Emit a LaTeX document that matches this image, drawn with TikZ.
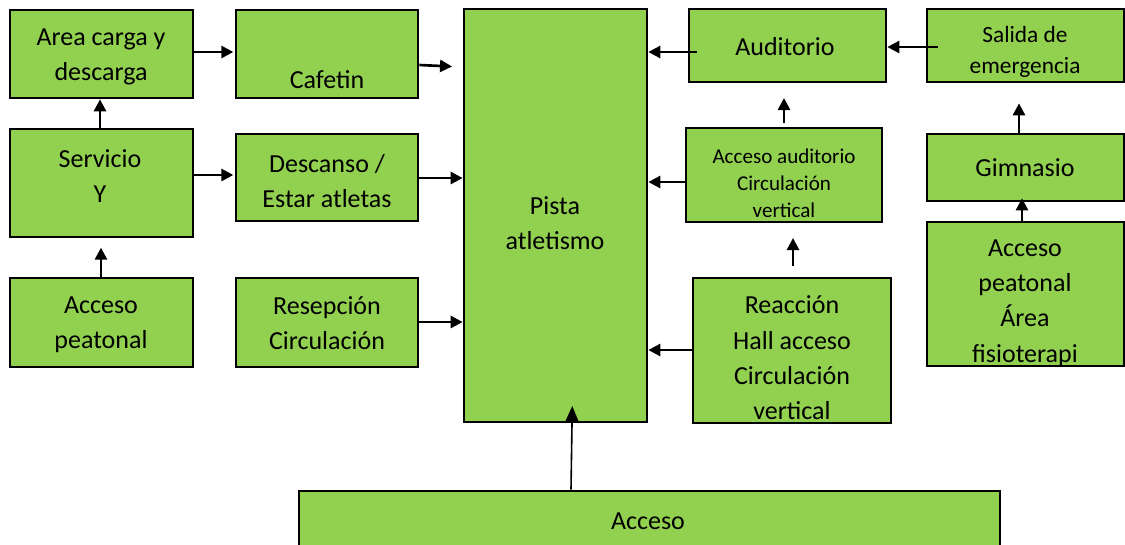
\documentclass[tikz,border=0pt]{standalone}
\usepackage{fontspec}
\setmainfont{Carlito}
\usetikzlibrary{arrows.meta}
\definecolor{boxgreen}{HTML}{92D050}
\tikzset{
  box/.style={draw=black, fill=boxgreen, line width=2pt, inner sep=0pt},
  txt/.style={align=center, inner sep=0pt, font=\fontsize{19.5}{26.5}\selectfont},
  smalltxt/.style={align=center, inner sep=0pt, font=\fontsize{15.8}{20.3}\selectfont},
  midtxt/.style={align=center, inner sep=0pt, font=\fontsize{17.5}{23.2}\selectfont},
  arr/.style={line width=2pt, -{Triangle[length=9pt,width=9pt]}},
  thinarr/.style={line width=1.2pt, -{Triangle[length=12pt,width=10pt]}}
}
\newcommand{\bx}[5]{\node[box, minimum width={(#3-#1)*0.75pt}, minimum height={(#4-#2)*0.75pt}] (#5) at ({(#1+#3)/2},{(#2+#4)/2}) {};}
\begin{document}
\begin{tikzpicture}[x=0.75pt, y=-0.75pt]
\clip (0,0) rectangle (1125,544);
\fill[white] (0,0) rectangle (1125,544);
% boxes
\bx{10}{10}{193}{98}{area}
\bx{236}{10}{418}{98}{cafe}
\bx{10}{129}{193}{237}{serv}
\bx{236}{134}{418}{221}{desc}
\bx{10}{278}{193}{367}{accl}
\bx{236}{278}{418}{367}{resp}
\bx{464}{9}{647}{422}{pista}
\bx{689}{9}{886}{82}{audi}
\bx{927}{9}{1124}{82}{sali}
\bx{686}{128}{882}{222}{acca}
\bx{927}{134}{1124}{201}{gimn}
\bx{927}{222}{1124}{366}{accr}
\bx{693}{278}{891}{423}{reac}
\bx{299}{491}{1000}{570}{acc}
% texts
\node[txt] (tarea) at (101,57) {Area carga y\\descarga};
\node[txt] (tcafe) at (327,80) {Cafetin};
\node[txt] (tserv) at (100,176) {Servicio\\Y};
\node[txt] (tdesc) at (327,181) {Descanso /\\Estar atletas};
\node[txt] (taccl) at (101,325) {Acceso\\peatonal};
\node[txt] (tresp) at (327,323) {Resepción\\Circulación};
\node[txt] (tpista) at (555,223) {Pista\\atletismo};
\node[txt] (taudi) at (785,47) {Auditorio};
\node[midtxt] (tsali) at (1025,52) {Salida de\\emergencia};
\node[smalltxt] (tacca) at (784,183) {Acceso auditorio\\Circulación\\vertical};
\node[txt] (tgimn) at (1025,168) {Gimnasio};
\node[txt] (taccr) at (1025,303) {Acceso\\peatonal\\Área\\fisioterapi};
\node[txt] (treac) at (792,358) {Reacción\\Hall acceso\\Circulación\\vertical};
\node[txt] (tacc) at (648,521) {Acceso};
% connectors
\draw[arr, shorten >=1pt] (area.east |- 0,52) -- (cafe.west |- 0,52);
\draw[arr, shorten >=8pt] (cafe.east |- 0,65) -- (pista.west |- 0,67);
\draw[arr] (serv.north -| 100,0) -- (area.south -| 100,0);
\draw[arr, shorten >=1pt] (serv.east |- 0,175) -- (desc.west |- 0,175);
\draw[arr] (desc.east |- 0,178) -- (pista.west |- 0,178);
\draw[arr, shorten >=7pt] (accl.north -| 101,0) -- (serv.south -| 101,0);
\draw[arr] (resp.east |- 0,322) -- (pista.west |- 0,322);
\draw[arr, shorten <=-7pt] (audi.west |- 0,52) -- (pista.east |- 0,52);
\draw[arr, shorten <=-9pt] (sali.west |- 0,47) -- (audi.east |- 0,47);
\draw[arr, shorten <=3pt, shorten >=11pt] (acca.north -| 784,0) -- (audi.south -| 784,0);
\draw[arr] (acca.west |- 0,182) -- (pista.east |- 0,182);
\draw[arr, shorten <=8pt, shorten >=11pt] (reac.north -| 793,0) -- (acca.south -| 793,0);
\draw[arr] (reac.west |- 0,350) -- (pista.east |- 0,350);
\draw[arr, shorten >=15pt] (gimn.north -| 1019,0) -- (sali.south -| 1019,0);
\draw[arr, shorten >=-3pt] (accr.north -| 1022,0) -- (gimn.south -| 1022,0);
\draw[thinarr, shorten >=-13pt] (acc.north -| 571,0) -- (pista.south -| 572,0);
\end{tikzpicture}
\end{document}
